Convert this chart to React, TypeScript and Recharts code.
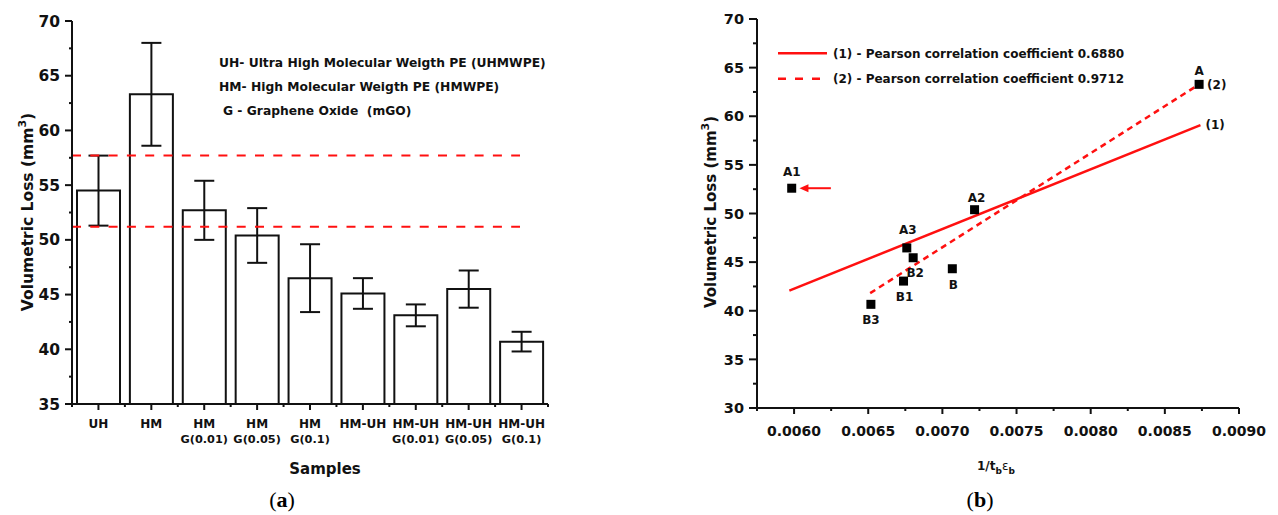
import React from "react";
import { Bar, BarChart, ComposedChart, ErrorBar, Line, ReferenceDot, ReferenceLine, Scatter, XAxis, YAxis } from "recharts";

// (a) abrasion loss per sample
const samples = ["UH", "HM", "HM\nG(0.01)", "HM\nG(0.05)", "HM\nG(0.1)", "HM-UH", "HM-UH\nG(0.01)", "HM-UH\nG(0.05)", "HM-UH\nG(0.1)"];
const volumetricLoss = [54.5, 63.3, 52.7, 50.4, 46.5, 45.1, 43.1, 45.5, 40.7];
const lossError = [3.2, 4.7, 2.7, 2.5, 3.1, 1.4, 1.0, 1.7, 0.9];
const limitLines = [57.7, 51.2];
const leftYTicks = [35, 37.5, 40, 42.5, 45, 47.5, 50, 52.5, 55, 57.5, 60, 62.5, 65, 67.5, 70];

// (b) loss vs 1/(tb*eb)
const pointNames = ["A1", "A3", "B2", "B1", "B", "B3", "A2", "A"];
const pointX = [0.005984, 0.00676, 0.006803, 0.006738, 0.007067, 0.006518, 0.007217, 0.008731];
const pointY = [52.6, 46.46, 45.45, 43.05, 44.32, 40.66, 50.39, 63.28];
const fit1X = [0.005968, 0.00874];
const fit1Y = [42.07, 59.09];
const fit2X = [0.006513, 0.008731];
const fit2Y = [41.81, 63.28];
const arrowX = [0.006248, 0.006036];
const arrowY = 52.6;
const rightYTicks = [30, 32.5, 35, 37.5, 40, 42.5, 45, 47.5, 50, 52.5, 55, 57.5, 60, 62.5, 65, 67.5, 70];
const rightXTicks = [0.00575, 0.006, 0.00625, 0.0065, 0.00675, 0.007, 0.00725, 0.0075, 0.00775, 0.008, 0.00825, 0.0085, 0.00875, 0.009];

const barData = samples.map((name, i) => ({ name, loss: volumetricLoss[i], err: lossError[i] }));
const points = pointNames.map((name, i) => ({ name, x: pointX[i], y: pointY[i] }));
const fit1 = fit1X.map((x, i) => ({ x, y: fit1Y[i] }));
const fit2 = fit2X.map((x, i) => ({ x, y: fit2Y[i] }));

const FONT = "'DejaVu Sans', sans-serif";
const INK = "#111";
const RED = "#ff1010";
const AXIS = { stroke: INK, strokeWidth: 2 };

// label offset from the point centre (dx, baseline dy)
const labelOffset: Record<string, [number, number]> = {
   A1: [0, -12],
   A3: [1, -14],
   B2: [2, 19],
   B1: [1, 20],
   B: [1, 20],
   B3: [0, 19.5],
   A2: [2, -8],
   A: [0, -9],
};

const makeYTick = (fontSize: number, majorLen: number, minorLen: number, gap: number) => (props: any) => {
   const { x, y, payload } = props;
   const major = payload.value % 5 === 0;
   return (
      <g>
         <line x1={x} y1={y} x2={x - (major ? majorLen : minorLen)} y2={y} stroke={INK} strokeWidth={2} />
         {major && (
            <text x={x - majorLen - gap} y={y} dy="0.36em" textAnchor="end" fontFamily={FONT} fontWeight="bold" fontSize={fontSize} fill={INK}>
               {payload.value}
            </text>
         )}
      </g>
   );
};

const LEFT_PLOT_W = 600 - 52 - 72;
const leftStep = LEFT_PLOT_W / samples.length;

const SampleTick = (props: any) => {
   const { x, y, payload, index } = props;
   const lines = String(payload.value).split("\n");
   return (
      <g>
         <line x1={x} y1={y} x2={x} y2={y + 6} stroke={INK} strokeWidth={2} />
         <line x1={x + leftStep / 2} y1={y} x2={x + leftStep / 2} y2={y + 3} stroke={INK} strokeWidth={2} />
         {index === 0 && <line x1={x - leftStep / 2} y1={y} x2={x - leftStep / 2} y2={y + 3} stroke={INK} strokeWidth={2} />}
         <text x={x} y={y + 24} textAnchor="middle" fontFamily={FONT} fontWeight="bold" fill={INK}>
            {lines.map((l, i) => (
               <tspan key={i} x={x} dy={i === 0 ? 0 : 14.5} fontSize={i === 0 ? 12 : 11.3}>
                  {l}
               </tspan>
            ))}
         </text>
      </g>
   );
};

const RatioTick = (props: any) => {
   const { x, y, payload } = props;
   const v = payload.value * 2000;
   const major = Math.abs(v - Math.round(v)) < 1e-6;
   return (
      <g>
         <line x1={x} y1={y} x2={x} y2={y + (major ? 6 : 3)} stroke={INK} strokeWidth={2} />
         {major && (
            <text x={x} y={y + 28} textAnchor="middle" fontFamily={FONT} fontWeight="bold" fontSize={14} fill={INK}>
               {payload.value.toFixed(4)}
            </text>
         )}
      </g>
   );
};

const PointShape = (props: any) => {
   const { cx, cy, payload } = props;
   const [dx, dy] = labelOffset[payload.name] || [0, -12];
   return (
      <g>
         <rect x={cx - 4.5} y={cy - 4.5} width={9} height={9} fill="#000" />
         <text x={cx + dx} y={cy + dy} textAnchor="middle" fontFamily={FONT} fontWeight="bold" fontSize={12} fill={INK}>
            {payload.name}
         </text>
      </g>
   );
};

const ArrowShape = (p: any) => (
   <g>
      <line x1={p.x1} y1={p.y1} x2={p.x2 + 6} y2={p.y2} stroke={RED} strokeWidth={2} />
      <polygon points={`${p.x2},${p.y2} ${p.x2 + 9},${p.y2 - 4} ${p.x2 + 9},${p.y2 + 4}`} fill={RED} />
   </g>
);

function LossBars() {
   return (
      <BarChart width={600} height={515} data={barData} margin={{ top: 21, right: 52, left: 0, bottom: 61 }}>
         <XAxis dataKey="name" interval={0} height={50} tickSize={0} tickMargin={0} tick={SampleTick} axisLine={AXIS} tickLine={false} />
         <XAxis xAxisId="top" dataKey="name" orientation="top" height={0} tick={false} tickLine={false} axisLine={AXIS} />
         <YAxis
            type="number"
            domain={[35, 70]}
            ticks={leftYTicks}
            interval={0}
            width={72}
            tickSize={0}
            tickMargin={0}
            tick={makeYTick(15.5, 7, 3, 5)}
            axisLine={AXIS}
            tickLine={false}
         />
         <YAxis yAxisId="right" orientation="right" type="number" domain={[35, 70]} width={0} tick={false} tickLine={false} axisLine={AXIS} />
         <Bar dataKey="loss" fill="#fff" stroke={INK} strokeWidth={2} barSize={43} isAnimationActive={false}>
            <ErrorBar dataKey="err" width={10} stroke={INK} strokeWidth={2} />
         </Bar>
         {limitLines.map((v) => (
            <ReferenceLine
               key={v}
               y={v}
               shape={(p: any) => (
                  <line x1={p.x1} y1={p.y1} x2={p.x2 - 28} y2={p.y2} stroke={RED} strokeWidth={2} strokeDasharray="9 9.3" />
               )}
            />
         ))}
      </BarChart>
   );
}

function LossCorrelation() {
   return (
      <ComposedChart width={638} height={515} margin={{ top: 19, right: 39, left: 0, bottom: 67 }}>
         <XAxis
            dataKey="x"
            type="number"
            domain={[0.00575, 0.009]}
            ticks={rightXTicks}
            interval={0}
            allowDataOverflow
            height={40}
            tickSize={0}
            tickMargin={0}
            tick={RatioTick}
            axisLine={AXIS}
            tickLine={false}
         />
         <XAxis xAxisId="top" type="number" domain={[0.00575, 0.009]} orientation="top" height={0} tick={false} tickLine={false} axisLine={AXIS} />
         <YAxis
            dataKey="y"
            type="number"
            domain={[30, 70]}
            ticks={rightYTicks}
            interval={0}
            allowDataOverflow
            width={117}
            tickSize={0}
            tickMargin={0}
            tick={makeYTick(14.5, 8, 4, 5)}
            axisLine={AXIS}
            tickLine={false}
         />
         <YAxis yAxisId="right" orientation="right" type="number" domain={[30, 70]} width={0} tick={false} tickLine={false} axisLine={AXIS} />
         <Line data={fit1} dataKey="y" stroke={RED} strokeWidth={2.5} dot={false} isAnimationActive={false} />
         <Line data={fit2} dataKey="y" stroke={RED} strokeWidth={2.5} strokeDasharray="6 4.5" dot={false} isAnimationActive={false} />
         <Scatter data={points} dataKey="y" shape={PointShape} isAnimationActive={false} />
         <ReferenceLine
            segment={[
               { x: arrowX[0], y: arrowY },
               { x: arrowX[1], y: arrowY },
            ]}
            shape={ArrowShape}
         />
         <ReferenceDot
            x={fit1X[1]}
            y={fit1Y[1]}
            r={0}
            label={{ value: "(1)", position: "right", offset: 5, fill: INK, fontSize: 12, fontWeight: "bold", fontFamily: FONT }}
         />
         <ReferenceDot
            x={fit2X[1]}
            y={fit2Y[1]}
            r={0}
            label={{ value: "(2)", position: "right", offset: 8, fill: INK, fontSize: 12, fontWeight: "bold", fontFamily: FONT }}
         />
      </ComposedChart>
   );
}

export default function App() {
   const txt = { fontFamily: FONT, fontWeight: "bold" as const, fill: INK };
   return (
      <div style={{ position: "absolute", left: 0, top: 0, width: 1278, height: 515, background: "#fff" }}>
         <div style={{ position: "absolute", left: 0, top: 0 }}>
            <LossBars />
         </div>
         <div style={{ position: "absolute", left: 640, top: 0 }}>
            <LossCorrelation />
         </div>
         <svg width={1278} height={515} style={{ position: "absolute", left: 0, top: 0, pointerEvents: "none" }}>
            {/* (a) */}
            <text transform="translate(33,212) rotate(-90)" textAnchor="middle" fontSize={15.5} {...txt}>
               Volumetric Loss (mm
               <tspan dy={-7} fontSize={11}>
                  3
               </tspan>
               <tspan dy={7}>)</tspan>
            </text>
            <text x={219} y={66.7} fontSize={12.3} {...txt}>
               UH- Ultra High Molecular Weigth PE (UHMWPE)
            </text>
            <text x={219} y={90.7} fontSize={12.3} {...txt}>
               HM- High Molecular Weigth PE (HMWPE)
            </text>
            <text x={223} y={115} fontSize={12.3} {...txt} xmlSpace="preserve">
               G - Graphene Oxide  (mGO)
            </text>
            <text x={325} y={474} textAnchor="middle" fontSize={15} {...txt}>
               Samples
            </text>
            <text x={282} y={507} textAnchor="middle" fontFamily="'Liberation Serif', serif" fontSize={22} fill="#000">
               (<tspan fontWeight="bold">a</tspan>)
            </text>

            {/* (b) */}
            <text transform="translate(716,212) rotate(-90)" textAnchor="middle" fontSize={15} {...txt}>
               Volumetric Loss (mm
               <tspan dy={-7} fontSize={11}>
                  3
               </tspan>
               <tspan dy={7}>)</tspan>
            </text>
            <line x1={778} y1={53.3} x2={827} y2={53.3} stroke={RED} strokeWidth={2.5} />
            <line x1={778} y1={78.7} x2={827} y2={78.7} stroke={RED} strokeWidth={2.5} strokeDasharray="8 9" />
            <text x={833} y={57.5} fontSize={12} {...txt}>
               (1) - Pearson correlation coefficient 0.6880
            </text>
            <text x={833} y={83} fontSize={12} {...txt}>
               (2) - Pearson correlation coefficient 0.9712
            </text>
            <text x={977} y={470} fontSize={12} {...txt}>
               1/t
               <tspan dy={4} fontSize={9}>
                  b
               </tspan>
               <tspan dy={-4} fontWeight="normal">
                  ε
               </tspan>
               <tspan dy={4} fontSize={9}>
                  b
               </tspan>
            </text>
            <text x={980} y={507} textAnchor="middle" fontFamily="'Liberation Serif', serif" fontSize={22} fill="#000">
               (<tspan fontWeight="bold">b</tspan>)
            </text>
         </svg>
      </div>
   );
}
